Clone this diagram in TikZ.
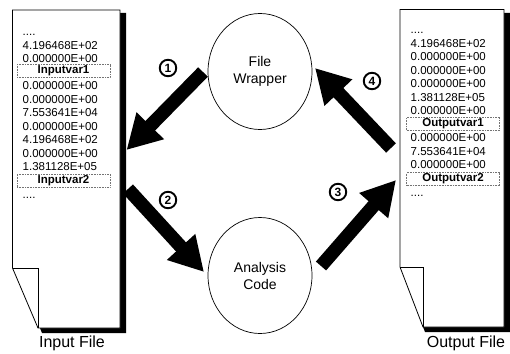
\documentclass[tikz,border=0pt]{standalone}
\usepackage{fontspec}
\setmainfont{Liberation Sans}
\usetikzlibrary{arrows.meta,shapes.geometric}
\newcommand\elide{....}
\begin{document}
\begin{tikzpicture}[x=1pt,y=-1pt,
  page/.style={draw=black, line width=0.8pt, fill=white},
  shadow/.style={fill=black},
  flap/.style={draw=black, line width=0.6pt},
  row/.style={anchor=base west, inner sep=0pt, font=\fontsize{11.5}{12}\selectfont},
  varbox/.style={draw=black!55, densely dotted, line width=0.6pt, minimum width=93pt,
    minimum height=13pt, inner sep=0pt, font=\fontsize{11.5}{12}\selectfont\bfseries},
  proc/.style={ellipse, draw, line width=0.7pt, minimum width=104pt, minimum height=116pt,
    align=center, font=\fontsize{14}{17}\selectfont},
  flow/.style={line width=13.5pt, -{Triangle[length=34pt,width=36pt]}},
  badge/.style={circle, draw, line width=1.9pt, minimum size=16.5pt, inner sep=0pt,
    font=\fontsize{12}{12}\selectfont\bfseries},
  caption/.style={font=\fontsize{16}{18}\selectfont}
]
\useasboundingbox (0,0) rectangle (510,353);

% ---- input file ----
\fill[shadow] (118,13) -- (126,13) -- (126,333) -- (42,333) -- (40,328) -- (118,328) -- cycle;
\draw[page] (12.5,10) -- (120,10) -- (120,328) -- (38,328) -- (12.5,268) -- cycle;
\draw[flap] (12.5,268) -- (38,268) -- (38,328);
\foreach \y/\t [count=\i] in {31.5/\elide,45/4.196468E+02,58.5/0.000000E+00,
    85.5/0.000000E+00,99/0.000000E+00,112.5/7.553641E+04,126/0.000000E+00,
    139.5/4.196468E+02,153/0.000000E+00,166.5/1.381128E+05,194/\elide}
  \node[row] (in\i) at (22.5,\y+4.2) {\t};
\node[varbox] (invar1) at (63.5,71) {Inputvar1};
\node[varbox] (invar2) at (63.5,180.5) {Inputvar2};
\node[caption] (inlabel) at (72,343) {Input File};

% ---- output file ----
\fill[shadow] (502,13) -- (510,13) -- (510,332) -- (425,332) -- (423,327) -- (502,327) -- cycle;
\draw[page] (400,9.5) -- (504,9.5) -- (504,327) -- (423,327) -- (400,267) -- cycle;
\draw[flap] (400,267) -- (423,267) -- (423,327);
\foreach \y/\t [count=\i] in {29.5/\elide,43/4.196468E+02,56.5/0.000000E+00,
    70/0.000000E+00,83.5/0.000000E+00,97/1.381128E+05,110.5/0.000000E+00,
    137.5/0.000000E+00,151/7.553641E+04,164.5/0.000000E+00,192/\elide}
  \node[row] (out\i) at (410.5,\y+4.2) {\t};
\node[varbox] (outvar1) at (453,123.5) {Outputvar1};
\node[varbox] (outvar2) at (453,179) {Outputvar2};
\node[caption] (outlabel) at (466,343) {Output File};

% ---- processes ----
\node[proc] (wrap) at (260,71.5) {File\\Wrapper};
\node[proc] (code) at (260,275.5) {Analysis\\Code};

% ---- data flow ----
\coordinate (a1s) at (203,72);  \coordinate (a1e) at (126.5,150);
\coordinate (a2s) at (128,189); \coordinate (a2e) at (204,272);
\coordinate (a3s) at (321,266); \coordinate (a3e) at (396,180);
\coordinate (a4s) at (391,148); \coordinate (a4e) at (315,68);
\draw[flow] (a1s) -- (a1e);
\draw[flow] (a2s) -- (a2e);
\draw[flow] (a3s) -- (a3e);
\draw[flow] (a4s) -- (a4e);

\node[badge] (n1) at (168,68) {1};
\node[badge] (n2) at (168,200) {2};
\node[badge] (n3) at (338,192) {3};
\node[badge] (n4) at (372,81) {4};
\end{tikzpicture}
\end{document}
